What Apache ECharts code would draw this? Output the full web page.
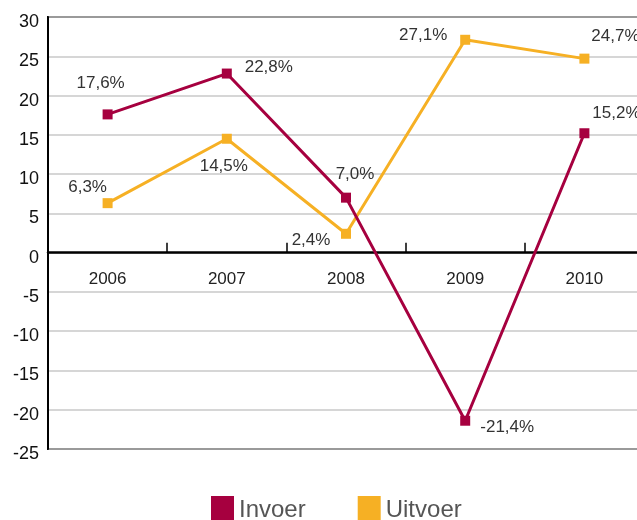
<!DOCTYPE html>
<html>
<head>
<meta charset="utf-8">
<script src="https://cdn.jsdelivr.net/npm/echarts@6/dist/echarts.min.js"></script>
<style>
html, body { margin: 0; padding: 0; background: #fff; }
#chart { width: 637px; height: 520px; }
</style>
</head>
<body>
<div id="chart"></div>
<script>
// jaren en waarden (%)
var jaren = ['2006', '2007', '2008', '2009', '2010'];
var invoer = [17.6, 22.8, 7.0, -21.4, 15.2];
var uitvoer = [6.3, 14.5, 2.4, 27.1, 24.7];
var yTicks = [-25, -20, -15, -10, -5, 0, 5, 10, 15, 20, 25, 30];

// label-verschuiving t.o.v. het punt
var invoerLabelOffset = [[-7, -31], [42, -6], [9, -23], [42, 7], [32, -20]];
var uitvoerLabelOffset = [[-20, -16], [-3, 28], [-35, 7], [-42, -4], [31, -22]];

var kleurInvoer = '#a6003f';
var kleurUitvoer = '#f6b024';

function pct(v) {
	return v.toFixed(1).replace('.', ',') + '%';
}

function maakData(waarden, offsets) {
	return waarden.map(function(v, i) {
		return {
			value: v,
			label: { offset: offsets[i] }
		};
	});
}

var chart = echarts.init(document.getElementById('chart'));

var labelStijl = {
	show: true,
	position: 'inside',
	align: 'center',
	verticalAlign: 'middle',
	color: '#333',
	fontSize: 17,
	fontFamily: 'Liberation Sans, Arial, sans-serif',
	formatter: function(p) { return pct(p.value); }
};

var option = {
	animation: false,
	textStyle: { fontFamily: 'Liberation Sans, Arial, sans-serif' },
	grid: {
		left: 48,
		width: 596, // loopt iets buiten beeld door, zoals het origineel
		top: 17,
		bottom: 71,
		outerBoundsMode: 'none',
		containLabel: false,
		show: true,
		borderColor: '#111',
		borderWidth: 2
	},
	legend: {
		data: ['Invoer', 'Uitvoer'],
		left: 206,
		top: 491,
		icon: 'rect',
		itemWidth: 23,
		itemHeight: 28,
		itemGap: 52,
		textStyle: { fontSize: 24, color: '#555' }
	},
	xAxis: {
		type: 'category',
		data: jaren,
		boundaryGap: true,
		axisLine: { onZero: true, lineStyle: { color: '#000', width: 2.5 } },
		axisTick: { show: true, inside: true, length: 10, lineStyle: { color: '#000', width: 1.5 } },
		// labels direct onder de nullijn
		axisLabel: { color: '#222', fontSize: 17, margin: -178 },
		splitLine: { show: false }
	},
	yAxis: {
		type: 'value',
		min: yTicks[0],
		max: yTicks[yTicks.length - 1],
		interval: 5,
		axisLine: { show: true, lineStyle: { color: '#000', width: 2 } },
		axisTick: { show: false },
		axisLabel: { color: '#111', fontSize: 18, margin: 9, verticalAlign: 'top', lineHeight: 10 },
		splitLine: { lineStyle: { color: '#c8c8c8', width: 1.5 } }
	},
	series: [{
		name: 'Uitvoer',
		type: 'line',
		data: maakData(uitvoer, uitvoerLabelOffset),
		color: kleurUitvoer,
		symbol: 'rect',
		symbolSize: 10,
		lineStyle: { width: 3, color: kleurUitvoer },
		itemStyle: { color: kleurUitvoer },
		label: labelStijl,
		z: 3
	}, {
		name: 'Invoer',
		type: 'line',
		data: maakData(invoer, invoerLabelOffset),
		color: kleurInvoer,
		symbol: 'rect',
		symbolSize: 10,
		lineStyle: { width: 3, color: kleurInvoer },
		itemStyle: { color: kleurInvoer },
		label: labelStijl,
		z: 4
	}]
};

chart.setOption(option);
</script>
</body>
</html>
